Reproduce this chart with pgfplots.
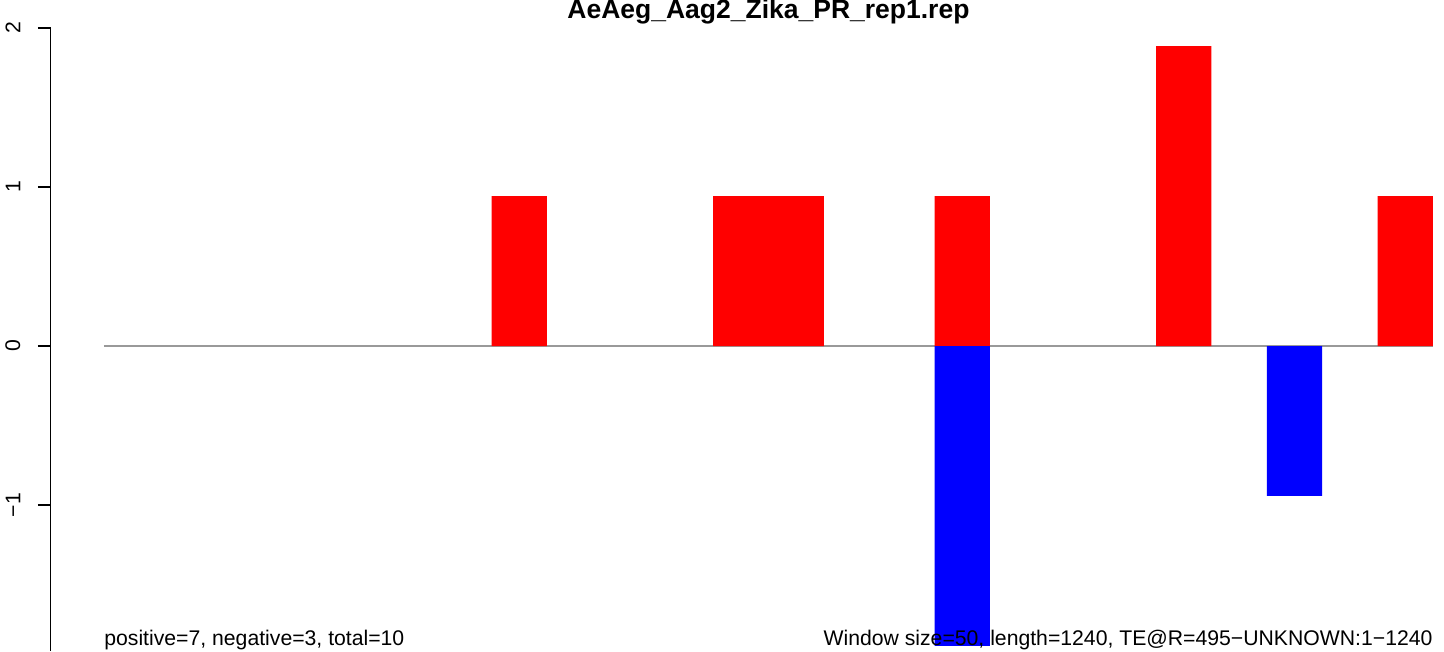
\documentclass[border=0pt]{standalone}
\usepackage{pgfplots}
\pgfplotsset{compat=1.18}
\usepackage{fontspec}
\setmainfont{Liberation Sans}
\definecolor{baseg}{rgb}{0.6,0.6,0.6}
\begin{document}
\begin{tikzpicture}
\begin{axis}[
    name=ax,
    scale only axis,
    width=696.6pt, height=325.5pt,
    xmin=-0.96, xmax=24.2,
    ymin=-1.918, ymax=2.176,
    hide x axis,
    axis y line*=left,
    y axis line style={draw=none},
    ytick={-1,0,1,2},
    yticklabels={−1,0,1,2},
    tick align=outside,
    major tick length=6.5pt,
    tick style={black, line width=0.65pt},
    yticklabel style={rotate=90, anchor=south, inner sep=0pt, yshift=8.5pt, font=\fontsize{10.6}{12}\selectfont},
    clip=false,
]
% baseline
\addplot[baseg, line width=0.6pt] coordinates {(0,0) (24,0)};
% positive windows
\addplot[ybar, bar width=1, bar shift=0, fill=red, draw=none] coordinates {
    (7.5,0.943) (11.5,0.943) (12.5,0.943) (15.5,0.943) (19.5,1.886) (23.5,0.943)
};
% negative windows
\addplot[ybar, bar width=1, bar shift=0, fill=blue, draw=none] coordinates {
    (15.5,-1.886) (21.5,-0.943)
};
\draw[line width=0.65pt] (axis cs:-0.96,2) -- (axis cs:-0.96,-1.918);
\node[anchor=base, font=\fontsize{13.25}{15}\selectfont\bfseries] at (axis cs:12,2.057) {AeAeg\_Aag2\_Zika\_PR\_rep1.rep};
\node[anchor=base west, inner sep=0pt, font=\fontsize{10.6}{12}\selectfont] at (axis cs:0,-1.881) {positive=7, negative=3, total=10};
\node[anchor=base east, inner sep=0pt, font=\fontsize{10.6}{12}\selectfont] at (axis cs:24,-1.881) {Window size=50, length=1240, TE@R=495−UNKNOWN:1−1240};
\end{axis}
\pgfresetboundingbox
\path[use as bounding box] ([xshift=-25.4pt]ax.south west) rectangle (ax.north east);
\end{tikzpicture}
\end{document}
